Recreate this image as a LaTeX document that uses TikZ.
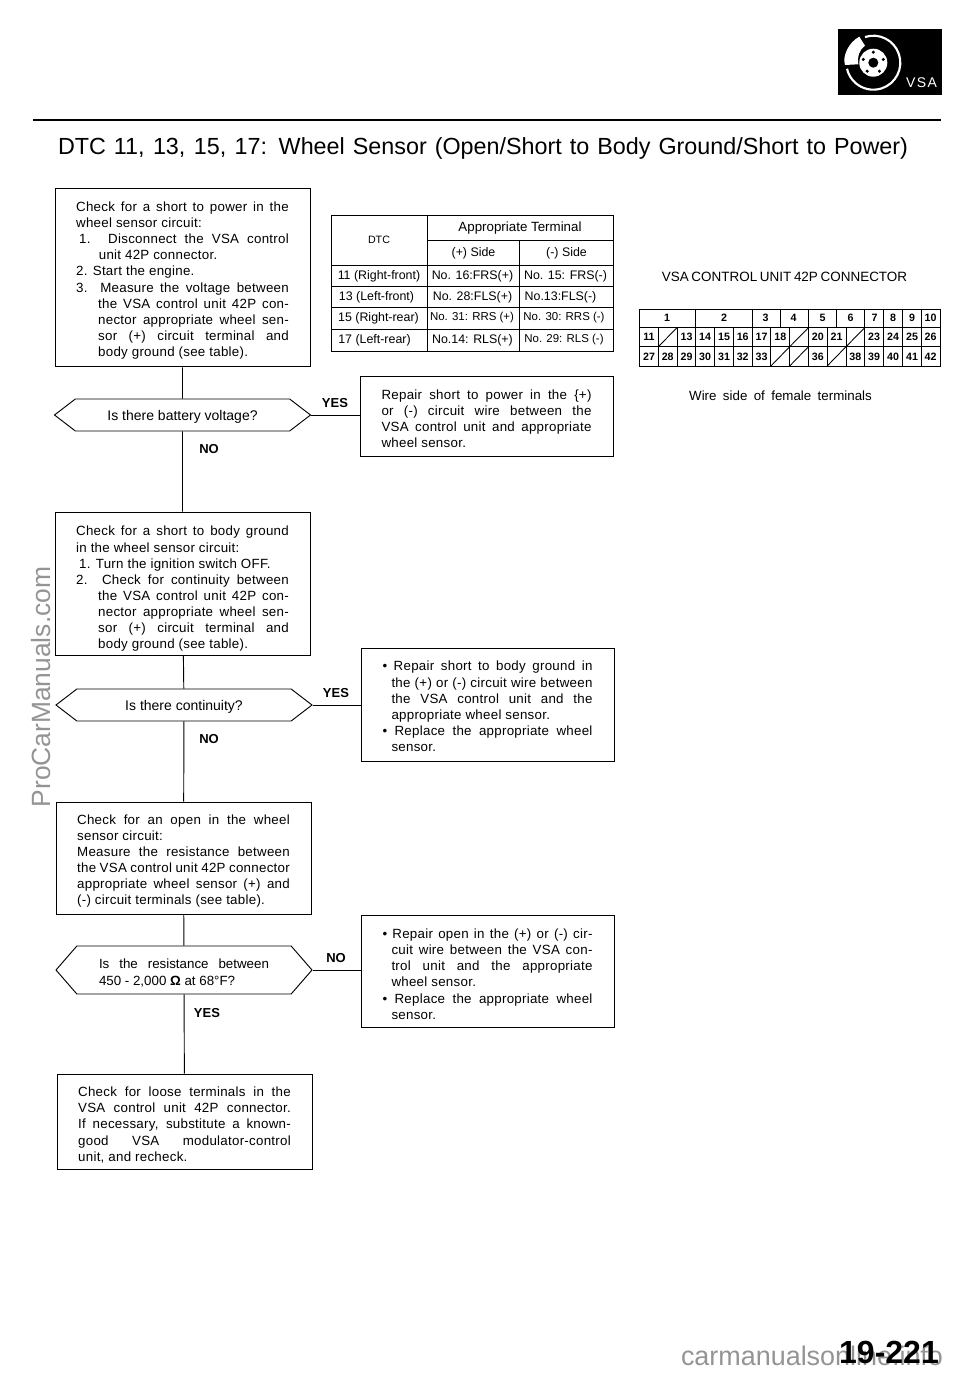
\documentclass[tikz,border=0pt]{standalone}
\usepackage{fontspec}
\setmainfont{Liberation Sans}
\newfontfamily\bodyfont[LetterSpace=2]{Liberation Sans}
\usetikzlibrary{shapes.symbols}

\newcommand{\fullline}[2][0]{\hspace*{#1pt}\makebox[\dimexpr\linew-#1pt\relax][s]{\spaceskip=0pt\xspaceskip=0pt #2}}
\newcommand{\plainline}[2][0]{\hspace*{#1pt}{\spaceskip=0pt\xspaceskip=0pt #2}}
\newcommand{\asktext}[2]{\raisebox{#1}[0pt][0pt]{#2}}

\tikzset{
  checkbox/.style={draw,line width=0.7pt,minimum width=191.25pt,align=left,inner sep=0pt,text width=159.5pt,font=\bodyfont\fontsize{10}{12.1}\selectfont,execute at begin node={\def\linew{159.5pt}}},
  repairbox/.style={draw,line width=0.7pt,minimum width=189.75pt,align=left,inner sep=0pt,text width=157.5pt,font=\bodyfont\fontsize{10}{12.1}\selectfont,execute at begin node={\def\linew{157.5pt}}},
  pad/.style={execute at begin node={\rule{0pt}{\dimexpr7.3pt+#1\relax}}},
  question/.style={draw,line width=0.7pt,signal,signal to=west and east,minimum width=192pt,minimum height=24pt,inner sep=0pt,font=\fontsize{10.5}{12}\selectfont},
  answer/.style={inner sep=0pt,font=\fontsize{9.75}{12}\bfseries\selectfont},
  flowline/.style={line width=0.7pt},
  gridline/.style={line width=0.65pt},
  cell/.style={inner sep=0pt,font=\fontsize{9.3}{10}\selectfont},
  cellsmall/.style={inner sep=0pt,font=\fontsize{8.6}{10}\selectfont},
  pin/.style={inner sep=0pt,font=\fontsize{8}{10}\bfseries\selectfont},
  watermark/.style={inner sep=0pt,anchor=base,text=black!42}
}

\begin{document}
\begin{tikzpicture}[x=0.75pt,y=0.75pt,yscale=-1,xscale=1]
\useasboundingbox (0,0) rectangle (960,1373);

%Shape: VSA badge
\fill [black] (838,29) rectangle (941.5,95);
\draw [white,line width=1.6pt] (873.3,62.7) ++(-108:27) arc (-108:167:27);
\fill [white] (859.3,36.7) -- (865,45.7) .. controls (859,50) and (857,57) .. (858.3,64.3) -- (845,65) .. controls (842,56) and (849,42) .. (859.3,36.7) -- cycle;
\fill [white] (873.3,62.7) circle (14);
\fill [black] (873.3,62.7) circle (5);
\fill [black] (873.3,62.7) ++(-90:10.5) circle (1.7);
\fill [black] (873.3,62.7) ++(-18:10.5) circle (1.7);
\fill [black] (873.3,62.7) ++(54:10.5) circle (1.7);
\fill [black] (873.3,62.7) ++(126:10.5) circle (1.7);
\fill [black] (873.3,62.7) ++(198:10.5) circle (1.7);
\node [inner sep=0pt,text=white,font=\fontsize{10.5}{12}\selectfont] (badge) at (921.5,83) {\makebox[23pt][s]{V\hfil S\hfil A}};

%Title and rule
\draw [line width=2pt] (33,120) -- (941,120);
\node [inner sep=0pt,font=\fontsize{17.5}{20}\selectfont] (title) at (483,148) {\makebox[637.5pt][s]{DTC 11, 13, 15, 17: Wheel Sensor (Open/Short to Body Ground/Short to Power)}};

%Flow column
\node [checkbox,pad=4.5pt,minimum height=134pt] (check1) at (182.5,277.5) {\fullline{Check for a short to power in the}\\ \plainline{wheel sensor circuit:}\\ \fullline[2.25]{1. Disconnect the VSA control}\\ \plainline[17]{unit 42P connector.}\\ \plainline{2. Start the engine.}\\ \fullline{3. Measure the voltage between}\\ \fullline[16.5]{the VSA control unit 42P con-}\\ \fullline[16.5]{nector appropriate wheel sen-}\\ \fullline[16.5]{sor (+) circuit terminal and}\\ \plainline[16.5]{body ground (see table).}};
\node [question,signal pointer angle=75] (ask1) at (182.5,415) {\asktext{-4.1pt}{Is there battery voltage?}};
\node [checkbox,pad=8.2pt,minimum height=107.25pt] (check2) at (182.5,583.5) {\fullline{Check for a short to body ground}\\ \plainline{in the wheel sensor circuit:}\\ \plainline[2.25]{1. Turn the ignition switch OFF.}\\ \fullline{2. Check for continuity between}\\ \fullline[16.5]{the VSA control unit 42P con-}\\ \fullline[16.5]{nector appropriate wheel sen-}\\ \fullline[16.5]{sor (+) circuit terminal and}\\ \plainline[16.5]{body ground (see table).}};
\node [question,signal pointer angle=75] (ask2) at (184,705) {\asktext{-4.1pt}{Is there continuity?}};
\node [checkbox,pad=4.5pt,minimum height=84pt] (check3) at (183.5,858) {\fullline{Check for an open in the wheel}\\ \plainline{sensor circuit:}\\ \fullline{Measure the resistance between}\\ \fullline{the VSA control unit 42P connector}\\ \fullline{appropriate wheel sensor (+) and}\\ \plainline{(-) circuit terminals (see table).}};
\node [question,signal pointer angle=98,minimum height=36pt] (ask3) at (184,970) {\asktext{-4.8pt}{\parbox{127.5pt}{\def\linew{127.5pt}\fontsize{10}{12.8}\selectfont\fullline{Is the resistance between}\\ \plainline{450 - 2,000 \textbf{Ω} at 68°F?}}}};
\node [checkbox,pad=5.2pt,minimum height=71.25pt] (check4) at (184.5,1121.5) {\fullline{Check for loose terminals in the}\\ \fullline{VSA control unit 42P connector.}\\ \fullline{If necessary, substitute a known-}\\ \fullline{good VSA modulator-control}\\ \plainline{unit, and recheck.}};

%Repair column
\node [repairbox,pad=3.75pt,minimum height=60pt] (repair1) at (486.5,416) {\fullline{Repair short to power in the \{+)}\\ \fullline{or (-) circuit wire between the}\\ \fullline{VSA control unit and appropriate}\\ \plainline{wheel sensor.}};
\node [repairbox,pad=3pt,minimum height=84.75pt] (repair2) at (487.5,704.5) {\fullline{• Repair short to body ground in}\\ \fullline[6.75]{the (+) or (-) circuit wire between}\\ \fullline[6.75]{the VSA control unit and the}\\ \plainline[6.75]{appropriate wheel sensor.}\\ \fullline{• Replace the appropriate wheel}\\ \plainline[6.75]{sensor.}};
\node [repairbox,pad=4.5pt,minimum height=84pt] (repair3) at (487.5,971) {\fullline{• Repair open in the (+) or (-) cir-}\\ \fullline[6.75]{cuit wire between the VSA con-}\\ \fullline[6.75]{trol unit and the appropriate}\\ \plainline[6.75]{wheel sensor.}\\ \fullline{• Replace the appropriate wheel}\\ \plainline[6.75]{sensor.}};

%Connectors
\draw [flowline] (check1) -- (ask1);
\draw [flowline] (ask1) -- (check2);
\draw [flowline] (check2) -- (ask2);
\draw [flowline] (ask2) -- (check3);
\draw [flowline] (check3) -- (ask3);
\draw [flowline] (ask3) -- (check4);
\draw [flowline] (ask1.east) -- (repair1.west |- ask1.east);
\draw [flowline] (ask2.east) -- (repair2.west |- ask2.east);
\draw [flowline] (ask3.east) -- (repair3.west |- ask3.east);

%Answers
\node [answer] (yes1) at (335,403) {YES};
\node [answer] (no1) at (209,449) {NO};
\node [answer] (yes2) at (336,693) {YES};
\node [answer] (no2) at (209,739) {NO};
\node [answer] (no3) at (336,958) {NO};
\node [answer] (yes3) at (207,1013) {YES};

%Table
\draw [gridline] (331,215) rectangle (613,351);
\draw [gridline] (427,215) -- (427,351);
\draw [gridline] (519.5,240) -- (519.5,351);
\draw [gridline] (427,240) -- (613,240);
\draw [gridline] (331,265) -- (613,265);
\draw [gridline] (331,286.5) -- (613,286.5);
\draw [gridline] (331,307.5) -- (613,307.5);
\draw [gridline] (331,329) -- (613,329);
\node [cell,font=\fontsize{8}{10}\selectfont] (dtchead) at (379,240) {DTC};
\node [cell,font=\fontsize{10}{10}\selectfont] (termhead) at (520,228) {Appropriate Terminal};
\node [cell] (plushead) at (473.5,253) {(+) Side};
\node [cell] (minushead) at (566.5,253) {(-) Side};
\node [cell] (dtca) at (379,276) {11 (Right-front)};
\node [cell] (plusa) at (472.5,276) {No. 16:FRS(+)};
\node [cell] (minusa) at (565.5,276) {No. 15: FRS(-)};
\node [cell] (dtcb) at (376.5,297) {13 (Left-front)};
\node [cell] (plusb) at (472.5,297) {No. 28:FLS(+)};
\node [cell] (minusb) at (560.5,297) {No.13:FLS(-)};
\node [cell] (dtcc) at (378.5,318) {15 (Right-rear)};
\node [cellsmall] (plusc) at (472,318) {No. 31: RRS (+)};
\node [cellsmall] (minusc) at (564,318) {No. 30: RRS (-)};
\node [cell] (dtcd) at (374.5,340) {17 (Left-rear)};
\node [cell] (plusd) at (472.5,340) {No.14: RLS(+)};
\node [cellsmall] (minusd) at (564,340) {No. 29: RLS (-)};

%Connector title and caption
\node [inner sep=0pt,font=\fontsize{10.1}{12}\selectfont] (conntitle) at (784.5,277) {\makebox[184pt][s]{VSA CONTROL UNIT 42P CONNECTOR}};
\node [inner sep=0pt,font=\fontsize{10}{12}\selectfont] (conncaption) at (780.5,396) {\makebox[137pt][s]{Wire side of female terminals}};

%Connector frame
\draw [gridline] (639.5,309) rectangle (940,366);
\draw [gridline] (639.5,327.7) -- (940,327.7);
\draw [gridline] (639.5,346.7) -- (940,346.7);
\draw [gridline] (695.8,309) -- (695.8,327.7);
\draw [gridline] (752.1,309) -- (752.1,327.7);
\draw [gridline] (780,309) -- (780,327.7);
\draw [gridline] (808.4,309) -- (808.4,327.7);
\draw [gridline] (836.7,309) -- (836.7,327.7);
\draw [gridline] (864.7,309) -- (864.7,366);
\draw [gridline] (883.5,309) -- (883.5,366);
\draw [gridline] (902.3,309) -- (902.3,366);
\draw [gridline] (921.1,309) -- (921.1,366);
\draw [gridline] (658.3,327.7) -- (658.3,366);
\draw [gridline] (677,327.7) -- (677,366);
\draw [gridline] (695.8,327.7) -- (695.8,366);
\draw [gridline] (714.6,327.7) -- (714.6,366);
\draw [gridline] (733.4,327.7) -- (733.4,366);
\draw [gridline] (752.1,327.7) -- (752.1,366);
\draw [gridline] (770.9,327.7) -- (770.9,366);
\draw [gridline] (789.7,327.7) -- (789.7,366);
\draw [gridline] (808.4,327.7) -- (808.4,366);
\draw [gridline] (827.2,327.7) -- (827.2,366);
\draw [gridline] (846,327.7) -- (846,366);
%Empty pins
\draw [gridline] (658.3,346.7) -- (677,327.7);
\draw [gridline] (789.7,346.7) -- (808.4,327.7);
\draw [gridline] (846,346.7) -- (864.7,327.7);
\draw [gridline] (770.9,366) -- (789.7,346.7);
\draw [gridline] (789.7,366) -- (808.4,346.7);
\draw [gridline] (827.2,366) -- (846,346.7);

%Cavity numbers, top row
\node [pin] (top1) at (667,318) {1};
\node [pin] (top2) at (724,318) {2};
\node [pin] (top3) at (765.5,318) {3};
\node [pin] (top4) at (793.5,318) {4};
\node [pin] (top5) at (822.5,318) {5};
\node [pin] (top6) at (850.5,318) {6};
\node [pin] (top7) at (874.5,318) {7};
\node [pin] (top8) at (893,318) {8};
\node [pin] (top9) at (912,318) {9};
\node [pin] (top10) at (930.5,318) {10};
%Cavity numbers, middle row
\node [pin] (pin11) at (649,337) {11};
\node [pin] (pin13) at (686.5,337) {13};
\node [pin] (pin14) at (705,337) {14};
\node [pin] (pin15) at (724,337) {15};
\node [pin] (pin16) at (742.7,337) {16};
\node [pin] (pin17) at (761.5,337) {17};
\node [pin] (pin18) at (780.3,337) {18};
\node [pin] (pin20) at (817.8,337) {20};
\node [pin] (pin21) at (836.6,337) {21};
\node [pin] (pin23) at (874,337) {23};
\node [pin] (pin24) at (893,337) {24};
\node [pin] (pin25) at (912,337) {25};
\node [pin] (pin26) at (930.5,337) {26};
%Cavity numbers, bottom row
\node [pin] (pin27) at (649,356.5) {27};
\node [pin] (pin28) at (667.7,356.5) {28};
\node [pin] (pin29) at (686.5,356.5) {29};
\node [pin] (pin30) at (705,356.5) {30};
\node [pin] (pin31) at (724,356.5) {31};
\node [pin] (pin32) at (742.7,356.5) {32};
\node [pin] (pin33) at (761.5,356.5) {33};
\node [pin] (pin36) at (817.8,356.5) {36};
\node [pin] (pin38) at (855.4,356.5) {38};
\node [pin] (pin39) at (874,356.5) {39};
\node [pin] (pin40) at (893,356.5) {40};
\node [pin] (pin41) at (912,356.5) {41};
\node [pin] (pin42) at (930.5,356.5) {42};

%Watermarks
\node [watermark,rotate=90,font=\fontsize{19.8}{24}\selectfont] (sidemark) at (50.5,687) {ProCarManuals.com};
\node [watermark,font=\fontsize{20.2}{24}\selectfont] (footmark) at (812,1365) {carmanualsonline.info};

%Page number
\node [inner sep=0pt,font=\fontsize{24}{28}\bfseries\selectfont] (pagenum) at (889,1352) {19-221};

\end{tikzpicture}
\end{document}
